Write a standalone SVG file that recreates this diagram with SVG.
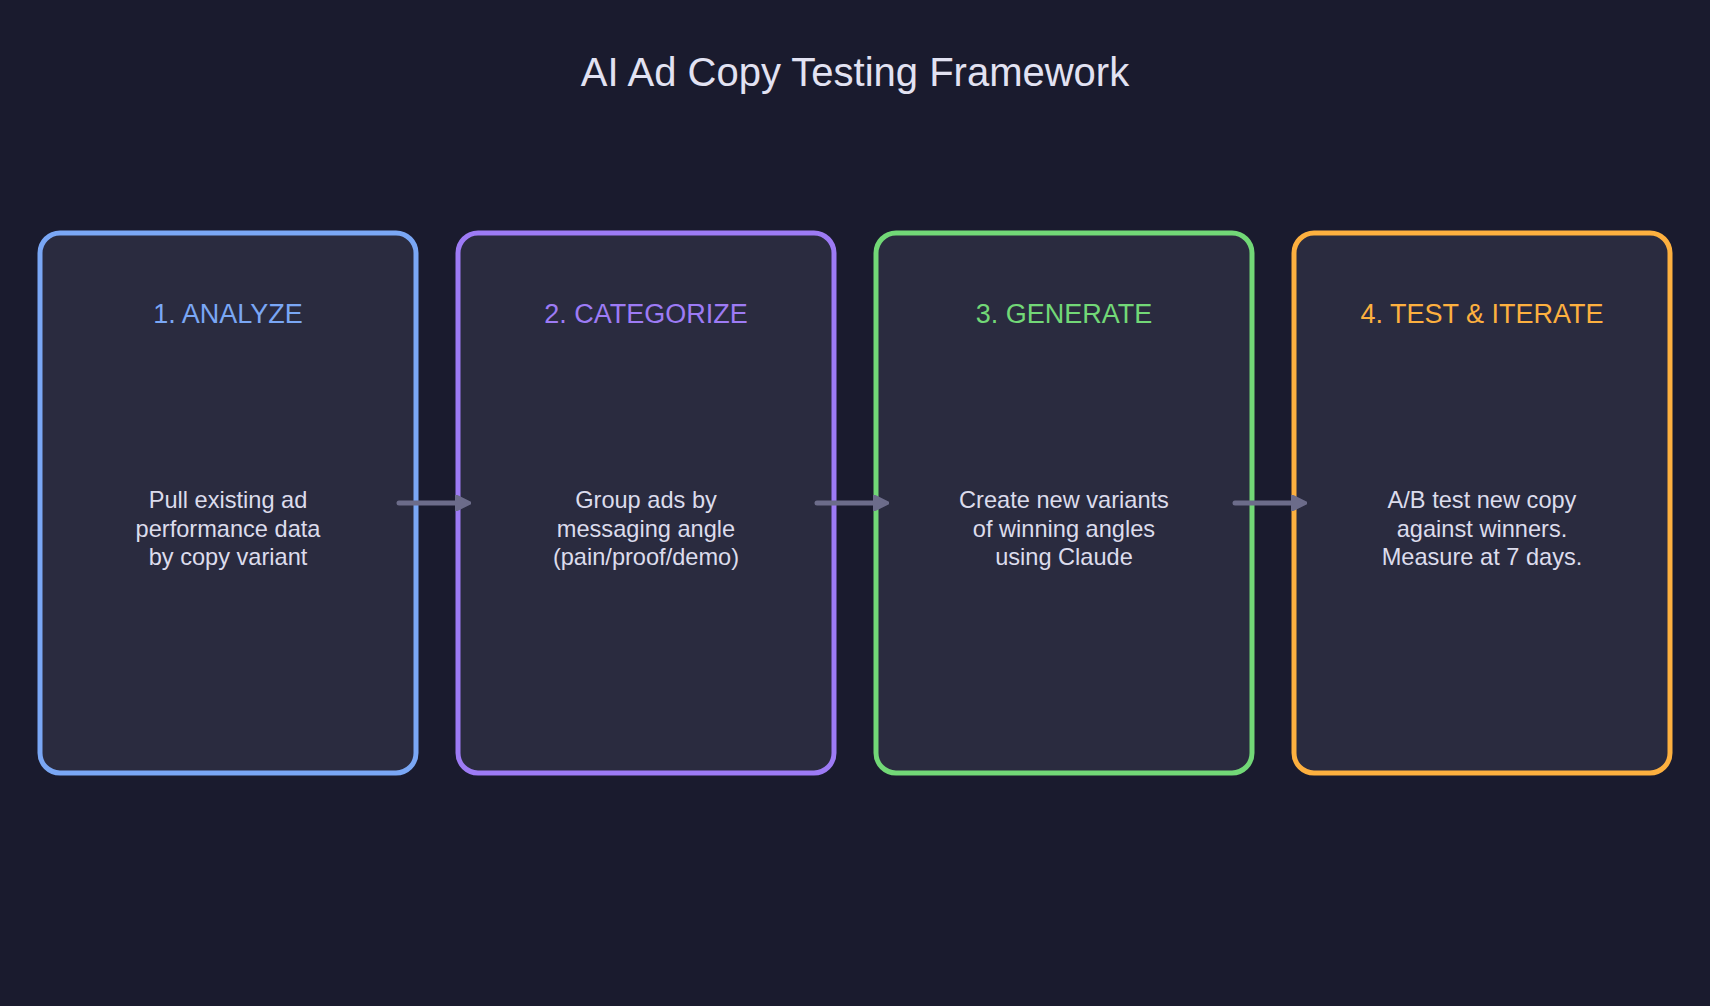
<svg xmlns="http://www.w3.org/2000/svg" width="1710" height="1006" viewBox="0 0 1710 1006">
<style>
.box{fill:#2a2b3f;stroke-width:5}
.head{font-family:"Liberation Sans",Arial,sans-serif;font-size:27px;text-anchor:middle}
.body{font-family:"Liberation Sans",Arial,sans-serif;font-size:23.6px;fill:#dcdcec;text-anchor:middle}
.title{font-family:"Liberation Sans",Arial,sans-serif;font-size:40px;fill:#e2e2f2;text-anchor:middle}
.conn{stroke:#6c6c8a;stroke-width:5;stroke-linecap:round;fill:none}
</style>
<defs>
<marker id="arr" viewBox="0 0 10 10" refX="2" refY="5" markerWidth="3.2" markerHeight="3.2" markerUnits="strokeWidth" orient="auto">
<path d="M0,0 L10,5 L0,10 z" fill="#6c6c8a" stroke="#6c6c8a" stroke-width="1.5" stroke-linejoin="round"/>
</marker>
</defs>
<rect width="1710" height="1006" fill="#1a1b2e"/>
<text class="title" x="855" y="86">AI Ad Copy Testing Framework</text>
<g id="node1">
<rect class="box" x="40" y="233" width="376" height="540" rx="20" stroke="#7aa7f5"/>
<text class="head" x="228" y="323" fill="#7aa7f5">1. ANALYZE</text>
<text class="body" x="228" y="508">Pull existing ad</text>
<text class="body" x="228" y="536.5">performance data</text>
<text class="body" x="228" y="565">by copy variant</text>
</g>
<g id="node2">
<rect class="box" x="458" y="233" width="376" height="540" rx="20" stroke="#9d7bf5"/>
<text class="head" x="646" y="323" fill="#9d7bf5">2. CATEGORIZE</text>
<text class="body" x="646" y="508">Group ads by</text>
<text class="body" x="646" y="536.5">messaging angle</text>
<text class="body" x="646" y="565">(pain/proof/demo)</text>
</g>
<g id="node3">
<rect class="box" x="876" y="233" width="376" height="540" rx="20" stroke="#72d877"/>
<text class="head" x="1064" y="323" fill="#72d877">3. GENERATE</text>
<text class="body" x="1064" y="508">Create new variants</text>
<text class="body" x="1064" y="536.5">of winning angles</text>
<text class="body" x="1064" y="565">using Claude</text>
</g>
<g id="node4">
<rect class="box" x="1294" y="233" width="376" height="540" rx="20" stroke="#fdb03f"/>
<text class="head" x="1482" y="323" fill="#fdb03f">4. TEST &amp; ITERATE</text>
<text class="body" x="1482" y="508">A/B test new copy</text>
<text class="body" x="1482" y="536.5">against winners.</text>
<text class="body" x="1482" y="565">Measure at 7 days.</text>
</g>
<g id="connectors">
<line class="conn" x1="399" y1="503" x2="458" y2="503" marker-end="url(#arr)"/>
<line class="conn" x1="817" y1="503" x2="876" y2="503" marker-end="url(#arr)"/>
<line class="conn" x1="1235" y1="503" x2="1294" y2="503" marker-end="url(#arr)"/>
</g>
</svg>
